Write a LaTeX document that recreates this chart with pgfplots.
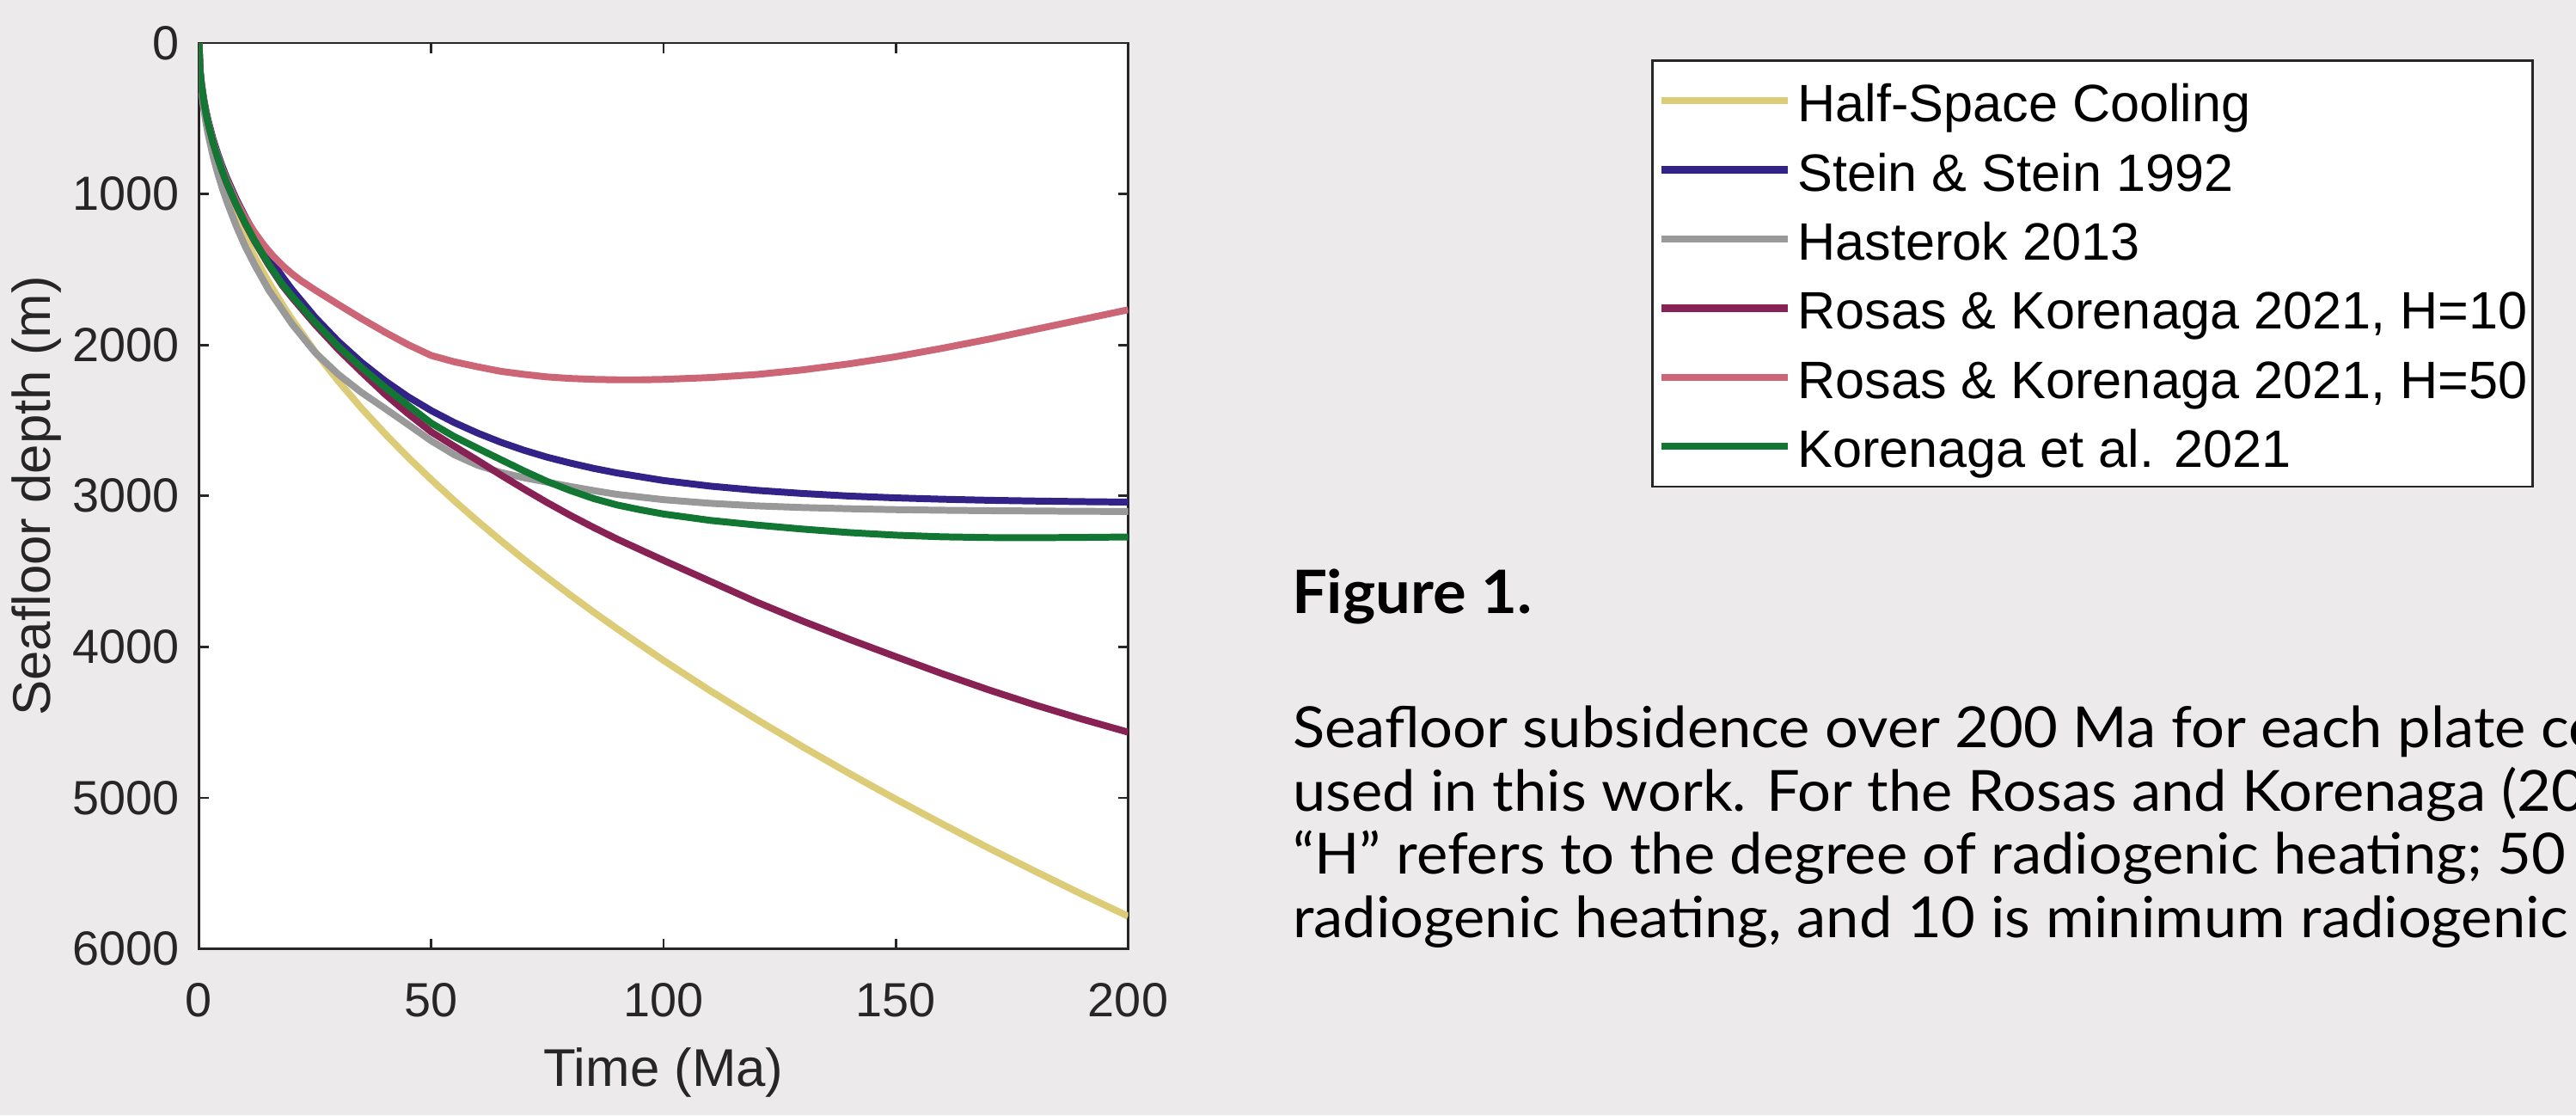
\documentclass[border=0pt]{standalone}
\usepackage{fontspec}
\setmainfont{Liberation Sans}
\newfontfamily\capfont[FakeStretch=1.04]{Lato}
\usepackage{pgfplots}
\pgfplotsset{compat=1.18}
\definecolor{bg}{HTML}{ECEAEB}
\definecolor{axc}{HTML}{262626}
\definecolor{sand}{HTML}{DDCC77}
\definecolor{indigo}{HTML}{332288}
\definecolor{greyc}{HTML}{999999}
\definecolor{wine}{HTML}{882255}
\definecolor{rose}{HTML}{CC6677}
\definecolor{tgreen}{HTML}{117733}
\begin{document}
\begin{tikzpicture}
\useasboundingbox (0pt,0pt) rectangle (499.5pt,216.17pt);
\fill[bg] (0pt,0pt) rectangle (499.5pt,216.17pt);
\begin{axis}[
  at={(38.58pt,32.25pt)}, anchor=south west,
  scale only axis, width=180.17pt, height=175.58pt,
  xmin=0, xmax=200, ymin=0, ymax=6000, y dir=reverse,
  xtick={0,50,100,150,200}, ytick={0,1000,2000,3000,4000,5000,6000},
  axis background/.style={fill=white},
  axis line style={draw=axc, line width=0.45pt},
  every tick/.style={draw=axc, line width=0.45pt},
  major tick length=1.95pt,
  tick align=inside,
  /pgf/number format/assume math mode=true,
  /pgf/number format/1000 sep={},
  tick label style={font=\fontsize{9.3}{11}\selectfont, text=axc},
  xticklabel style={inner sep=0pt, anchor=north, yshift=-6.4pt},
  yticklabel style={inner sep=0pt, anchor=east, xshift=-3.6pt},
  xlabel={Time (Ma)}, ylabel={Seafloor depth (m)},
  label style={font=\fontsize{10.3}{12}\selectfont, text=axc},
  xlabel style={at={(axis description cs:0.5,-0.1515)}, anchor=base, inner sep=0pt},
  ylabel style={at={(axis description cs:-0.1466,0.5)}, anchor=south, inner sep=0pt},
  legend style={at={(axis description cs:1.563,0.982)}, anchor=north west,
    draw=axc, line width=0.45pt, fill=white, inner xsep=1.0pt, inner ysep=1.1pt,
    row sep=0pt, font=\fontsize{10.2}{12}\selectfont,
    nodes={inner sep=0pt, text height=10.8pt, text depth=2.6pt}},
  legend cell align=left,
  legend image code/.code={\path (0pt,0pt) (25.8pt,0pt); \draw[#1, line width=1.4pt] (0pt,0pt) -- (24.5pt,0pt);},
]
\addplot[color=sand, line width=1.33pt] coordinates {
(0,0) (0.25,204.5) (0.5,289) (1,409) (1.5,501) (2,578) (3,708) (4,818) (5,915) (6,1002)
(8,1157) (10,1293) (12,1417) (15,1584) (18,1735) (20,1829) (25,2045) (30,2240) (35,2420)
(40,2587) (45,2744) (50,2892) (55,3033) (60,3168) (65,3297) (70,3422) (75,3542) (80,3658)
(85,3771) (90,3880) (100,4090) (110,4290) (120,4480) (130,4663) (140,4839) (150,5009)
(160,5173) (170,5333) (180,5487) (190,5638) (200,5784)};
\addlegendentry{Half-Space Cooling}
\addplot[color=indigo, line width=1.33pt] coordinates {
(0,0) (0.25,183) (0.5,258) (1,365) (1.5,447) (2,516) (3,632) (4,730) (5,816) (6,894)
(8,1032) (10,1154) (12,1264) (15,1414) (18,1549) (20,1632) (25,1817) (30,1977) (35,2116)
(40,2237) (45,2343) (50,2435) (55,2515) (60,2584) (65,2645) (70,2698) (75,2744) (80,2783)
(85,2818) (90,2848) (100,2898) (110,2935) (120,2963) (130,2984) (140,3001) (150,3013)
(160,3022) (170,3029) (180,3034) (190,3038) (200,3041)};
\addlegendentry{Stein \& Stein 1992}
\addplot[color=greyc, line width=1.33pt] coordinates {
(0,0) (0.25,215) (0.5,305) (1,430) (1.5,527) (2,608) (3,745) (4,860) (5,960) (6,1050)
(8,1210) (10,1350) (12,1470) (15,1635) (18,1770) (20,1860) (25,2050) (30,2195) (35,2315)
(40,2420) (45,2527) (50,2635) (55,2728) (60,2797) (65,2845) (70,2880) (75,2909) (80,2938)
(85,2965) (90,2990) (100,3025) (110,3049) (120,3066) (130,3077) (140,3085) (150,3091)
(160,3095) (170,3098) (180,3100) (190,3102) (200,3103)};
\addlegendentry{Hasterok 2013}
\addplot[color=wine, line width=1.33pt] coordinates {
(0,0) (0.25,190) (0.5,268) (1,379) (1.5,464) (2,536) (3,657) (4,758) (5,848) (6,929)
(8,1073) (10,1200) (12,1315) (15,1470) (18,1608) (20,1685) (25,1865) (30,2030) (35,2180)
(40,2325) (45,2455) (50,2576) (55,2672) (60,2765) (65,2862) (70,2955) (75,3045) (80,3130)
(85,3210) (90,3286) (100,3427) (110,3565) (120,3703) (130,3830) (140,3950) (150,4065)
(160,4178) (170,4285) (180,4385) (190,4478) (200,4565)};
\addlegendentry{Rosas \& Korenaga 2021, H=10}
\addplot[color=rose, line width=1.33pt] coordinates {
(0,0) (0.25,187) (0.5,264) (1,372) (1.5,455) (2,526) (3,644) (4,743) (5,830) (6,908)
(8,1045) (10,1160) (12,1255) (14,1340) (16,1412) (18,1474) (20,1528) (22,1575) (25,1636)
(30,1732) (35,1826) (40,1915) (45,1998) (50,2070) (55,2112) (60,2145) (65,2175) (70,2195)
(75,2212) (80,2222) (85,2228) (90,2231) (95,2231) (100,2228) (110,2216) (120,2196)
(130,2165) (140,2125) (150,2078) (160,2022) (170,1962) (180,1897) (190,1832) (200,1767)};
\addlegendentry{Rosas \& Korenaga 2021, H=50}
\addplot[color=tgreen, line width=1.33pt] coordinates {
(0,0) (0.25,189) (0.5,267) (1,378) (1.5,463) (2,535) (3,655) (4,756) (5,845) (6,926)
(8,1069) (10,1195) (12,1309) (15,1464) (18,1600) (20,1675) (25,1850) (30,2010) (35,2150)
(40,2280) (45,2400) (50,2518) (55,2608) (60,2685) (65,2760) (70,2835) (75,2905) (80,2965)
(85,3018) (90,3060) (95,3092) (100,3120) (110,3162) (120,3193) (130,3220) (140,3243)
(150,3260) (160,3271) (170,3276) (180,3277) (190,3275) (200,3272)};
\addlegendentry{Korenaga et al. 2021}
\end{axis}
\begin{scope}
\clip (0pt,0pt) rectangle (499.5pt,216.17pt);
\node[anchor=base west, inner sep=0pt, font=\capfont\bfseries\fontsize{11.6}{14}\selectfont] at (250.3pt,97.3pt) {Figure 1.};
\node[anchor=base west, inner sep=0pt, font=\capfont\fontsize{11}{13}\selectfont] at (250.5pt,71.2pt) {Seafloor subsidence over 200 Ma for each plate cooling model};
\node[anchor=base west, inner sep=0pt, font=\capfont\fontsize{11}{13}\selectfont] at (250.5pt,59.0pt) {used in this work. For the Rosas and Korenaga (2021) models,};
\node[anchor=base west, inner sep=0pt, font=\capfont\fontsize{11}{13}\selectfont] at (250.5pt,46.7pt) {“H” refers to the degree of radiogenic heating; 50 is maximum};
\node[anchor=base west, inner sep=0pt, font=\capfont\fontsize{11}{13}\selectfont] at (250.5pt,34.5pt) {radiogenic heating, and 10 is minimum radiogenic heating.};
\end{scope}
\end{tikzpicture}
\end{document}
